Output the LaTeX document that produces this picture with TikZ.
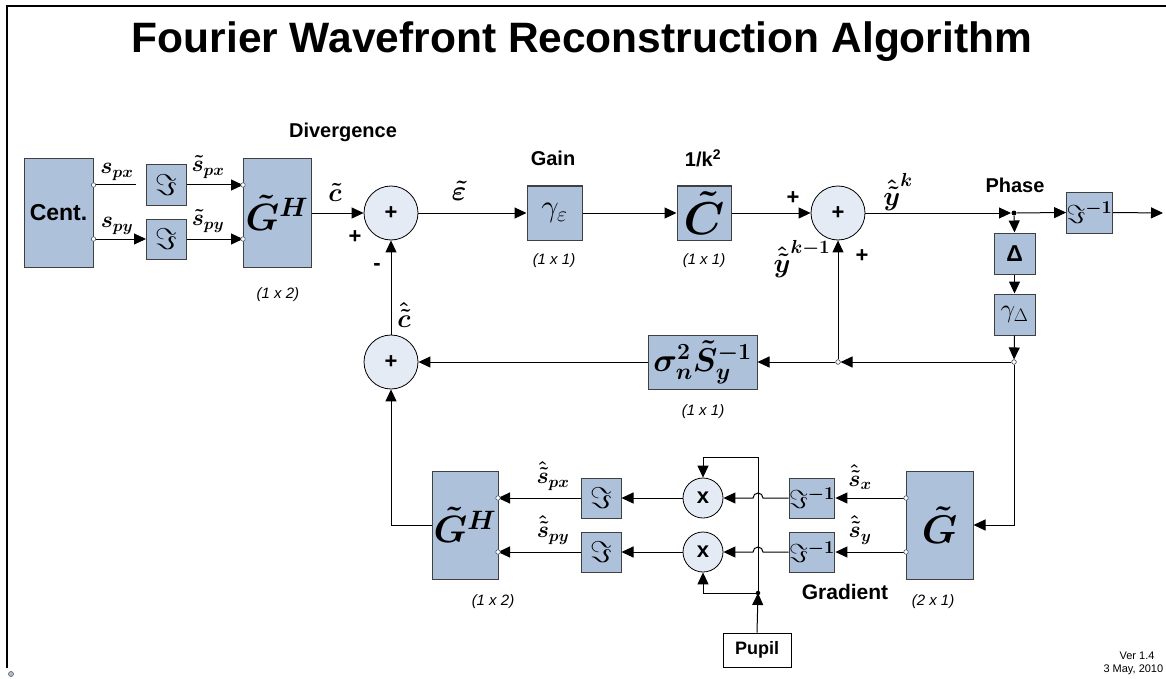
\RequirePackage{fix-cm}
\documentclass[tikz,border=0pt]{standalone}
\usepackage[no-math]{fontspec}
\setmainfont{Liberation Sans}
\usepackage{amsmath,bm}
\usetikzlibrary{arrows.meta}
\newcommand{\fs}[1]{\fontsize{#1}{#1}\selectfont}
\definecolor{boxc}{RGB}{174,193,219}
\definecolor{bordc}{RGB}{64,64,64}
\definecolor{circc}{RGB}{228,235,245}
\definecolor{portc}{RGB}{80,90,110}
\begin{document}
\begin{tikzpicture}[x=1pt,y=-1pt,line width=1pt,
  >={Triangle[length=12pt,width=11pt]},
  blk/.style={draw=bordc,fill=boxc,line width=1pt,inner sep=0pt},
  sumc/.style={circle,draw=black,fill=circc,line width=0.8pt,inner sep=0pt,minimum size=54pt,font=\fs{22}\bfseries},
  mulc/.style={sumc,minimum size=40pt},
  port/.style={circle,draw=portc,fill=white,line width=0.6pt,inner sep=0pt,minimum size=4.5pt},
  dotj/.style={circle,fill=black,inner sep=0pt,minimum size=5pt},
  lbl/.style={inner sep=0pt,font=\fs{23}},
  bl/.style={inner sep=0pt,font=\fs{20}\bfseries},
  dimlbl/.style={inner sep=0pt,font=\fs{15}\itshape},
  sgn/.style={inner sep=0pt,font=\fs{22}\bfseries}]
\useasboundingbox (0,0) rectangle (1166,679);
% frame
\draw[line width=2pt] (7,668) -- (7,6) -- (1166,6);
\node[circle,draw=portc,fill=portc!40,line width=0.6pt,inner sep=0pt,minimum size=5pt] (corner) at (11,674) {};
% title
\node[inner sep=0pt,font=\fs{42.5}\bfseries] (title) at (582,42) {Fourier Wavefront Reconstruction Algorithm};
% top row blocks
\node[blk,minimum width=69pt,minimum height=109pt,font=\fs{23}\bfseries] (cent) at (58.5,213) {Cent.};
\node[blk,minimum width=40pt,minimum height=40pt,font=\fs{30}] (F1) at (166.5,185) {$\Im$};
\node[blk,minimum width=40pt,minimum height=40pt,font=\fs{30}] (F2) at (166.5,239) {$\Im$};
\node[blk,minimum width=68pt,minimum height=109pt,font=\fs{38}] (GH1) at (277,213) {$\bm{\tilde{G}}^{\bm{H}}$};
\node[sumc] (s1) at (391,213) {+};
\node[blk,minimum width=55pt,minimum height=54pt,font=\fs{31}] (gam) at (554.5,213) {$\gamma_{\varepsilon}$};
\node[blk,minimum width=54pt,minimum height=54pt,font=\fs{46}] (C) at (704,213) {$\bm{\tilde{C}}$};
\node[sumc] (s2) at (838,213) {+};
\node[dotj] (pd) at (1014,213) {};
\node[blk,minimum width=41pt,minimum height=41pt,font=\fs{23}\bfseries] (Delta) at (1014.5,253.5) {Δ};
\node[blk,minimum width=41pt,minimum height=41pt,font=\fs{26}] (gD) at (1014.5,314.5) {$\gamma_{\Delta}$};
\node[blk,minimum width=41pt,minimum height=41pt,font=\fs{26}] (Finv) at (1089.5,212.5) {$\Im^{\bm{-1}}$};
\coordinate (outend) at (1163,213);
% middle row
\node[port] (jR) at (1014,362) {};
\node[port] (jL) at (838,362) {};
\node[blk,minimum width=109pt,minimum height=54pt,font=\fs{33}] (sig) at (702.5,362) {$\bm{\sigma}_{\bm n}^{\bm 2}\bm{\tilde{S}}_{\bm y}^{\bm{-1}}$};
\node[sumc] (s3) at (391,362) {+};
% bottom row
\node[blk,minimum width=66pt,minimum height=108pt,font=\fs{38}] (GH2) at (465,525) {$\bm{\tilde{G}}^{\bm{H}}$};
\node[blk,minimum width=40pt,minimum height=40pt,font=\fs{30}] (F3) at (601,498) {$\Im$};
\node[blk,minimum width=40pt,minimum height=40pt,font=\fs{30}] (F4) at (601,552) {$\Im$};
\node[mulc] (x1) at (703,498) {x};
\node[mulc] (x2) at (703,552) {x};
\node[blk,minimum width=40pt,minimum height=40pt,font=\fs{26}] (Fi1) at (812,498) {$\Im^{\bm{-1}}$};
\node[blk,minimum width=40pt,minimum height=40pt,font=\fs{26}] (Fi2) at (812,552) {$\Im^{\bm{-1}}$};
\node[blk,minimum width=67pt,minimum height=108pt,font=\fs{40}] (G) at (939.5,525) {$\bm{\tilde{G}}$};
\node[draw=black,line width=1pt,fill=white,minimum width=68pt,minimum height=34pt,inner sep=0pt,font=\fs{18}\bfseries] (pupil) at (757,650) {Pupil};
\coordinate (pj) at (758,593);
\coordinate (ptop) at (758,457);
% ports
\coordinate (cp1) at (93.5,185);
\coordinate (cp2) at (93.5,239);
\coordinate (gp1) at (243,185);
\coordinate (gp2) at (243,239);
\coordinate (hp1) at (498,498);
\coordinate (hp2) at (498,552);
\coordinate (gq1) at (906,498);
\coordinate (gq2) at (906,552);
\coordinate (spxend) at (136,185);
% connectors top
\draw (cp1) -- (spxend);
\draw[->] (cp2) -- (F2.west);
\draw[->] (F1.east) -- (gp1);
\draw[->] (F2.east) -- (gp2);
\draw[->] (GH1.east) -- (s1.west);
\draw[->] (s1.east) -- (gam.west);
\draw[->] (gam.east) -- (C.west);
\draw[->] (C.east) -- (s2.west);
\draw[->] (s2.east) -- (pd);
\draw[->] (pd) -- (Finv.west);
\draw[->] (Finv.east) -- (outend);
\draw[->] (pd) -- (Delta.north);
\draw[->] (Delta.south) -- (gD.north);
\draw[->] (gD.south) -- (jR);
\draw[->] (jR) -- (jL);
\draw[->] (jL) -- (sig.east);
\draw[->] (jL) -- (s2.south);
\draw[->] (sig.west) -- (s3.east);
\draw[->] (s3.north) -- (s1.south);
\draw[->] (GH2.west) -| (s3.south);
\draw[->] (jR) |- (G.east);
% bottom
\draw[->] (gq1) -- (Fi1.east);
\draw[->] (gq2) -- (Fi2.east);
\draw[->] (Fi1.west) -- (763,498) arc[start angle=0,end angle=-180,radius=5] -- (x1.east);
\draw[->] (Fi2.west) -- (763,552) arc[start angle=0,end angle=-180,radius=5] -- (x2.east);
\draw[->] (x1.west) -- (F3.east);
\draw[->] (x2.west) -- (F4.east);
\draw[->] (F3.west) -- (hp1);
\draw[->] (F4.west) -- (hp2);
\draw[->] (pupil.north) -- (pj);
\draw[->] (pj) -- (ptop) -| (x1.north);
\draw[->] (pj) -| (x2.south);
\node[dotj,minimum size=4.5pt] (pjd) at (pj) {};
% port circles
\foreach \p in {cp1,cp2,gp1,gp2,hp1,hp2,gq1,gq2} \node[port] at (\p) {};
\node[port] at (jR) {};
\node[port] at (jL) {};
% labels
\node[lbl] (lspx) at (117,172) {$\bm{s}_{\bm{px}}$};
\node[lbl] (lspy) at (117,226) {$\bm{s}_{\bm{py}}$};
\node[lbl] (ltspx) at (208,167) {$\bm{\tilde{s}}_{\bm{px}}$};
\node[lbl] (ltspy) at (208,221) {$\bm{\tilde{s}}_{\bm{py}}$};
\node[bl] (ldiv) at (343,132) {Divergence};
\node[dimlbl] (ld1) at (278,295) {(1 x 2)};
\node[lbl,font=\fs{26}] (lc) at (335,192) {$\bm{\tilde{c}}$};
\node[sgn] (lp1) at (355,237) {+};
\node[sgn] (lm1) at (377,267) {-};
\node[lbl,font=\fs{28}] (leps) at (459,191) {$\bm{\tilde{\varepsilon}}$};
\node[bl] (lgain) at (553,158) {Gain};
\node[dimlbl] (ld2) at (554,261) {(1 x 1)};
\node[bl] (lk) at (703,158) {1/k\textsuperscript{2}};
\node[dimlbl] (ld3) at (704,261) {(1 x 1)};
\node[sgn] (lp2) at (793,198) {+};
\node[lbl,font=\fs{27}] (lyk1) at (802,259) {$\bm{\hat{\tilde{y}}}^{\bm{k-1}}$};
\node[sgn] (lp3) at (862,256) {+};
\node[lbl,font=\fs{27}] (lyk) at (898,192) {$\bm{\hat{\tilde{y}}}^{\bm{k}}$};
\node[bl] (lphase) at (1015,185) {Phase};
\node[dimlbl] (ld4) at (703,412) {(1 x 1)};
\node[lbl,font=\fs{26}] (lhc) at (404,315) {$\bm{\hat{\tilde{c}}}$};
\node[lbl] (lhspx) at (553,476) {$\bm{\hat{\tilde{s}}}_{\bm{px}}$};
\node[lbl] (lhspy) at (553,530) {$\bm{\hat{\tilde{s}}}_{\bm{py}}$};
\node[dimlbl] (ld5) at (493,602) {(1 x 2)};
\node[lbl] (lhsx) at (860,477) {$\bm{\hat{\tilde{s}}}_{\bm{x}}$};
\node[lbl] (lhsy) at (860,530) {$\bm{\hat{\tilde{s}}}_{\bm{y}}$};
\node[bl,font=\fs{21}\bfseries] (lgrad) at (845,592) {Gradient};
\node[dimlbl] (ld6) at (933,602) {(2 x 1)};
\node[inner sep=0pt,font=\fs{11}] (lver) at (1137,656) {Ver 1.4};
\node[inner sep=0pt,font=\fs{11},anchor=west] (ldate) at (1103,670) {3 May, 2010};
\end{tikzpicture}
\end{document}
